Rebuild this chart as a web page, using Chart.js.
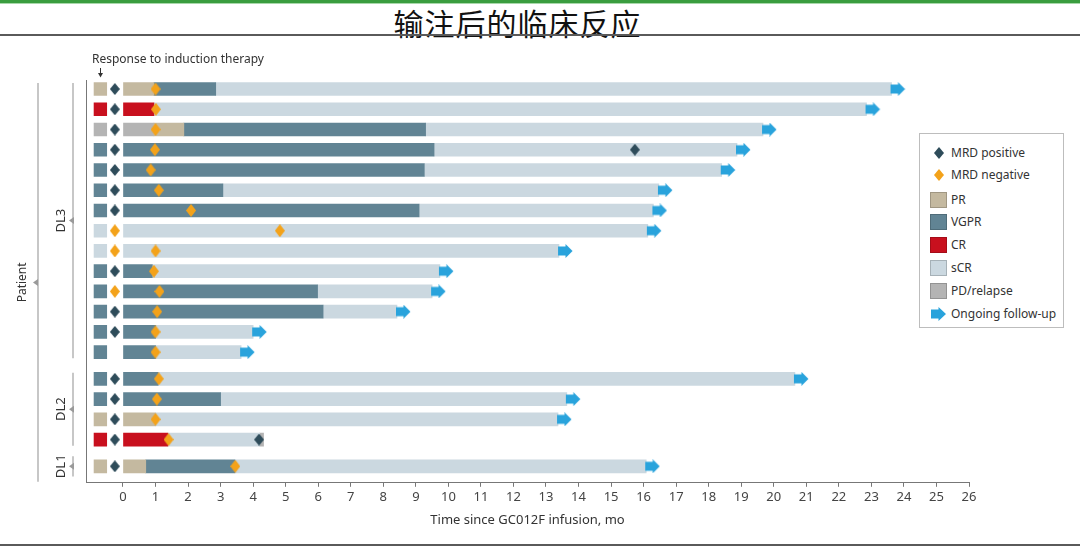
<!DOCTYPE html>
<html><head><meta charset="utf-8">
<script src="https://cdn.jsdelivr.net/npm/chart.js@4.4.1/dist/chart.umd.min.js"></script>
<style>
html,body{margin:0;padding:0;background:#fff;}
body{width:1080px;height:547px;position:relative;overflow:hidden;font-family:"Noto Sans",sans-serif;}
#c{position:absolute;left:0;top:0;width:1080px;height:547px;}
#green{position:absolute;left:0;top:0;width:1080px;height:3px;background:#3a9d3f;border-bottom:1px solid #a8d8aa;}
#title{position:absolute;left:0;width:1035px;top:7px;text-align:center;font-family:"Noto Sans CJK SC",sans-serif;font-size:30px;line-height:30px;letter-spacing:1px;color:#111;font-weight:400;}
#rule{position:absolute;left:0;top:34px;width:1080px;height:2px;background:#5a5a5a;}
#rule2{position:absolute;left:0;top:544px;width:1080px;height:2px;background:#5a5a5a;}
#legend{position:absolute;left:919px;top:133px;width:143px;height:193px;border:1px solid #bdbdbd;background:#fff;}
.li{position:absolute;left:0;height:16px;width:143px;}
.li span{position:absolute;left:31px;top:0;line-height:16px;font-size:12px;color:#333;white-space:nowrap;}
.dm{position:absolute;left:14px;top:2px;}
.sw{position:absolute;left:10px;top:0;width:15px;height:14px;border:1px solid rgba(0,0,0,0.18);}
.ar{position:absolute;left:11px;top:1px;}
</style></head><body>
<div id="green"></div>
<div id="title">输注后的临床反应</div>
<div id="rule"></div>
<div id="rule2"></div>
<canvas id="c" width="1080" height="547"></canvas>
<div id="legend">
  <div class="li" style="top:11px"><svg class="dm" width="10" height="12"><polygon points="5,0 10,6 5,12 0,6" fill="#2e4c5a"/></svg><span>MRD positive</span></div>
  <div class="li" style="top:33px"><svg class="dm" width="10" height="12"><polygon points="5,0 10,6 5,12 0,6" fill="#f3a21a"/></svg><span>MRD negative</span></div>
  <div class="li" style="top:58px"><div class="sw" style="background:#c4b9a0"></div><span>PR</span></div>
  <div class="li" style="top:80px"><div class="sw" style="background:#618494"></div><span>VGPR</span></div>
  <div class="li" style="top:103px"><div class="sw" style="background:#c8101e"></div><span>CR</span></div>
  <div class="li" style="top:126px"><div class="sw" style="background:#cbd8e0"></div><span>sCR</span></div>
  <div class="li" style="top:149px"><div class="sw" style="background:#b4b4b4"></div><span>PD/relapse</span></div>
  <div class="li" style="top:172px"><svg class="ar" width="15" height="14"><polygon points="0,2.5 7.5,2.5 7.5,0 15,7 7.5,14 7.5,11.5 0,11.5" fill="#29a3dc"/></svg><span>Ongoing follow-up</span></div>
</div>
<script>
// ---------------- data ----------------
const groupNames = ['DL3', 'DL2', 'DL1'];
const patientGroup = ['DL3','DL3','DL3','DL3','DL3','DL3','DL3','DL3','DL3','DL3','DL3','DL3','DL3','DL3',
                      'DL2','DL2','DL2','DL2','DL1'];
const inductionResponse = ['PR','CR','PD','VGPR','VGPR','VGPR','VGPR','sCR','sCR','VGPR','VGPR','VGPR','VGPR','VGPR',
                           'VGPR','VGPR','PR','CR','PR'];
const inductionMRD = ['pos','pos','pos','pos','pos','pos','pos','neg','neg','pos','neg','pos','pos',null,
                      'pos','pos','pos','pos','pos'];
// response segments after infusion: [status, start month, end month]
const responseSegments = [
  [['PR',0,0.95],['VGPR',0.95,2.85],['sCR',2.85,23.62]],
  [['CR',0,0.95],['sCR',0.95,22.85]],
  [['PD',0,0.95],['PR',0.95,1.87],['VGPR',1.87,9.3],['sCR',9.3,19.67]],
  [['VGPR',0,9.56],['sCR',9.56,18.87]],
  [['VGPR',0,9.26],['sCR',9.26,18.4]],
  [['VGPR',0,3.07],['sCR',3.07,16.47]],
  [['VGPR',0,9.1],['sCR',9.1,16.3]],
  [['sCR',0,16.13]],
  [['sCR',0,13.4]],
  [['VGPR',0,0.9],['sCR',0.9,9.74]],
  [['VGPR',0,5.98],['sCR',5.98,9.5]],
  [['VGPR',0,6.15],['sCR',6.15,8.42]],
  [['VGPR',0,1.0],['sCR',1.0,4.0]],
  [['VGPR',0,1.0],['sCR',1.0,3.63]],
  [['VGPR',0,1.08],['sCR',1.08,20.65]],
  [['VGPR',0,3.0],['sCR',3.0,13.64]],
  [['PR',0,1.0],['sCR',1.0,13.37]],
  [['CR',0,1.38],['sCR',1.38,4.2],['PD',4.2,4.32]],
  [['PR',0,0.7],['VGPR',0.7,3.44],['sCR',3.44,16.08]]
];
const mrdNegativeMonth = [1.0,1.01,1.0,0.98,0.85,1.1,2.09,4.82,1.0,0.95,1.12,1.05,1.0,1.0,1.1,1.04,1.0,1.4,3.45];
const mrdPositiveMonth = [null,null,null,15.73,null,null,null,null,null,null,null,null,null,null,null,null,null,4.18,null];
const ongoingFollowUp = [true,true,true,true,true,true,true,true,true,true,true,true,true,true,true,true,true,false,true];
const statusNames = ['PR','VGPR','CR','sCR','PD'];
const statusLabels = ['PR','VGPR','CR','sCR','PD/relapse'];
const tickValues = [0,1,2,3,4,5,6,7,8,9,10,11,12,13,14,15,16,17,18,19,20,21,22,23,24,25,26];

// ---------------- layout / style ----------------
const statusColors = {PR:'#c4b9a0', VGPR:'#618494', CR:'#c8101e', sCR:'#cbd8e0', PD:'#b4b4b4'};
const MRD_POS_COLOR = '#2e4c5a', MRD_NEG_COLOR = '#f3a21a', ARROW_COLOR = '#29a3dc';
const GROUP_GAP = 0.32;
const INDUCTION_BAR = [-0.89, -0.5];
const INDUCTION_MRD_X = -0.25;
const X_MIN = -1.137, X_MAX = 26;
const Y_MIN = -0.446, Y_MAX = 19.455;

const rowPos = patientGroup.map((g, i) => i + groupNames.indexOf(g) * GROUP_GAP);

function diamondImg(color, w, h) {
  const c = document.createElement('canvas'); c.width = w; c.height = h;
  const g = c.getContext('2d'); g.fillStyle = color;
  g.beginPath(); g.moveTo(w/2, 0); g.lineTo(w, h/2); g.lineTo(w/2, h); g.lineTo(0, h/2); g.closePath(); g.fill();
  return c;
}
function arrowImg(color) {
  const c = document.createElement('canvas'); c.width = 28; c.height = 14;
  const g = c.getContext('2d'); g.fillStyle = color;
  g.beginPath();
  g.moveTo(13, 2.5); g.lineTo(20.5, 2.5); g.lineTo(20.5, 0); g.lineTo(27.5, 7); g.lineTo(20.5, 14);
  g.lineTo(20.5, 11.5); g.lineTo(13, 11.5); g.closePath(); g.fill();
  return c;
}

const barDatasets = statusNames.map((s, si) => {
  const data = [];
  inductionResponse.forEach((r, i) => { if (r === s) data.push({x: INDUCTION_BAR.slice(), y: rowPos[i]}); });
  responseSegments.forEach((segs, i) => segs.forEach(seg => {
    if (seg[0] === s) data.push({x: [seg[1], seg[2]], y: rowPos[i]});
  }));
  return {type: 'bar', indexAxis: 'y', label: statusLabels[si], data,
    backgroundColor: statusColors[s], borderWidth: 0, barThickness: 13, grouped: false, order: 10};
});

const posPts = [], negPts = [], arrowPts = [];
inductionMRD.forEach((m, i) => {
  if (m === 'pos') posPts.push({x: INDUCTION_MRD_X, y: rowPos[i]});
  if (m === 'neg') negPts.push({x: INDUCTION_MRD_X, y: rowPos[i]});
});
mrdNegativeMonth.forEach((v, i) => { if (v !== null) negPts.push({x: v, y: rowPos[i]}); });
mrdPositiveMonth.forEach((v, i) => { if (v !== null) posPts.push({x: v, y: rowPos[i]}); });
ongoingFollowUp.forEach((o, i) => {
  if (o) { const segs = responseSegments[i]; arrowPts.push({x: segs[segs.length-1][2], y: rowPos[i]}); }
});

const posImg = diamondImg(MRD_POS_COLOR, 10, 12);
const negImg = diamondImg(MRD_NEG_COLOR, 10, 13);
const arImg = arrowImg(ARROW_COLOR);

const scatterDatasets = [
  {type: 'scatter', label: 'MRD positive', data: posPts, pointStyle: posImg, pointRadius: 6, order: 1},
  {type: 'scatter', label: 'MRD negative', data: negPts, pointStyle: negImg, pointRadius: 6, order: 1},
  {type: 'scatter', label: 'Ongoing follow-up', data: arrowPts, pointStyle: arImg, pointRadius: 6, order: 5}
];

const annot = {
  id: 'annot',
  afterDraw(chart) {
    const ctx = chart.ctx, ys = chart.scales.y, xs = chart.scales.x;
    ctx.save();
    ctx.fillStyle = '#333';
    ctx.font = '12px "Noto Sans"';
    ctx.textAlign = 'left'; ctx.textBaseline = 'middle';
    ctx.fillText('Response to induction therapy', 92, 60);
    const ax = Math.round(xs.getPixelForValue((INDUCTION_BAR[0] + INDUCTION_BAR[1]) / 2)) + 0.5;
    ctx.strokeStyle = '#333'; ctx.lineWidth = 1;
    ctx.beginPath(); ctx.moveTo(ax, 68); ctx.lineTo(ax, 75); ctx.stroke();
    ctx.beginPath(); ctx.moveTo(ax - 2.5, 73); ctx.lineTo(ax, 77.5); ctx.lineTo(ax + 2.5, 73); ctx.closePath(); ctx.fill();

    const lineCol = '#b5b5b5', triCol = '#9a9a9a';
    function tri(x, y) {
      ctx.fillStyle = triCol; ctx.beginPath();
      ctx.moveTo(x, y); ctx.lineTo(x + 5, y - 3.5); ctx.lineTo(x + 5, y + 3.5); ctx.closePath(); ctx.fill();
    }
    function vtext(t, x, y, size) {
      ctx.save(); ctx.translate(x, y); ctx.rotate(-Math.PI / 2);
      ctx.fillStyle = '#333'; ctx.font = size + 'px "Noto Sans"';
      ctx.textAlign = 'center'; ctx.textBaseline = 'middle'; ctx.fillText(t, 0, 0); ctx.restore();
    }
    let topAll = null;
    groupNames.forEach(g => {
      const idx = patientGroup.map((v, i) => v === g ? i : -1).filter(i => i >= 0);
      const first = rowPos[idx[0]], last = rowPos[idx[idx.length - 1]];
      const ext = idx.length > 1 ? 0.3 : 0.5;
      const top = ys.getPixelForValue(first - ext), bot = ys.getPixelForValue(last + ext);
      if (topAll === null) topAll = top;
      ctx.strokeStyle = lineCol; ctx.lineWidth = 1.5;
      ctx.beginPath(); ctx.moveTo(73, top); ctx.lineTo(73, bot); ctx.stroke();
      const mid = (ys.getPixelForValue(first) + ys.getPixelForValue(last)) / 2;
      tri(69, mid);
      vtext(g, 61, mid, 13);
    });
    const botAll = chart.chartArea.bottom - 1;
    ctx.strokeStyle = lineCol; ctx.lineWidth = 1.5;
    ctx.beginPath(); ctx.moveTo(38, topAll); ctx.lineTo(38, botAll); ctx.stroke();
    const pm = (topAll + botAll) / 2;
    tri(33, pm);
    vtext('Patient', 23, pm, 12);
    ctx.restore();
  }
};

Chart.defaults.font.family = '"Noto Sans", sans-serif';
new Chart(document.getElementById('c'), {
  type: 'bar',
  data: {datasets: [...scatterDatasets, ...barDatasets]},
  plugins: [annot],
  options: {
    responsive: false, animation: false, events: [],
    layout: {padding: {left: 86, right: 111, top: 80, bottom: 15}},
    plugins: {legend: {display: false}, tooltip: {enabled: false}},
    scales: {
      x: {type: 'linear', position: 'bottom', min: X_MIN, max: X_MAX, offset: false,
          afterBuildTicks: s => { s.ticks = tickValues.map(v => ({value: v})); },
          grid: {display: true, offset: false, drawOnChartArea: false, drawTicks: true, tickLength: 4, color: '#777'},
          border: {display: true, color: '#777', width: 1},
          ticks: {color: '#444', font: {size: 13}, padding: 3, autoSkip: false, maxRotation: 0},
          title: {display: true, text: 'Time since GC012F infusion, mo', color: '#333', font: {size: 13}, padding: {top: 4, bottom: 4}}},
      y: {type: 'linear', reverse: true, min: Y_MIN, max: Y_MAX, position: 'left', offset: false,
          grid: {display: false, offset: false, drawTicks: false}, ticks: {display: false},
          border: {display: true, color: '#777', width: 1}}
    }
  }
});
</script>
</body></html>
